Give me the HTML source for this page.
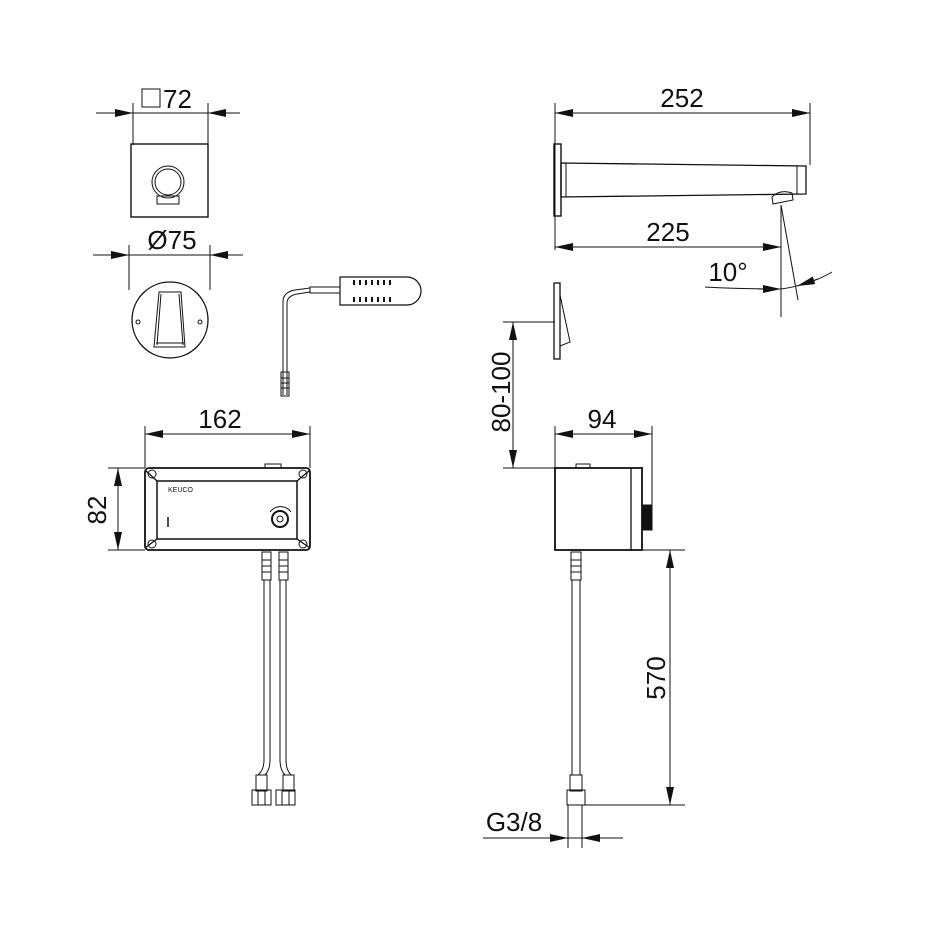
<!DOCTYPE html>
<html><head><meta charset="utf-8"><style>
html,body{margin:0;padding:0;background:#fff}
svg{display:block}
text{font-family:"Liberation Sans",sans-serif;fill:#111}
</style></head><body>
<svg width="950" height="950" viewBox="0 0 950 950" xmlns="http://www.w3.org/2000/svg">
<defs>
<marker id="a" viewBox="0 0 18 8" refX="18" refY="4" markerWidth="18" markerHeight="8" orient="auto-start-reverse" markerUnits="userSpaceOnUse"><path d="M0,0 L18,4 L0,8 z" fill="#111"/></marker>
</defs>
<g stroke="#111" stroke-width="1" fill="none">
<!-- □72 -->
<line x1="133" y1="103" x2="133" y2="145"/><line x1="208" y1="103" x2="208" y2="145"/>
<line x1="96" y1="113" x2="240" y2="113"/>
<line x1="110" y1="113" x2="133" y2="113" marker-end="url(#a)"/><line x1="230" y1="113" x2="208" y2="113" marker-end="url(#a)"/>
<rect x="142" y="89" width="18" height="18"/>
<rect x="131" y="144" width="77" height="73" stroke-width="1.4"/>
<circle cx="168" cy="182" r="16"/><circle cx="168" cy="182" r="13"/>
<rect x="157" y="196" width="22" height="8"/>
<!-- Ø75 -->
<line x1="129" y1="245" x2="129" y2="290"/><line x1="210" y1="245" x2="210" y2="290"/>
<line x1="93" y1="255" x2="243" y2="255"/>
<line x1="105" y1="255" x2="129" y2="255" marker-end="url(#a)"/><line x1="233" y1="255" x2="210" y2="255" marker-end="url(#a)"/>
<circle cx="170" cy="320" r="38" stroke-width="1.3"/>
<circle cx="138" cy="322" r="2"/><circle cx="200" cy="322" r="2"/>
<path d="M159,292 L181,292 L185,347 L154,347 Z"/><path d="M161,294 L157,345 M179,294 L183,345 M156,343 L184,343"/>
<!-- sensor -->
<path d="M283,395 L283,302 Q283,292 295,290 L310,288"/><path d="M287,395 L287,303 Q287,296 297,294 L310,292"/>
<rect x="310" y="287" width="30" height="6"/>
<path d="M340,277 L407,277 A14,14 0 0 1 407,305 L340,305 Z" stroke-width="1.2"/>
<g stroke-width="2"><path d="M354,280v5M360,280v5M366,280v5M372,280v5M378,280v5M384,280v5M390,280v5M354,297v5M360,297v5M366,297v5M372,297v5M378,297v5M384,297v5M390,297v5"/></g>
<rect x="281" y="372" width="8" height="24"/><path d="M281,378h8M281,383h8M281,388h8"/>
<!-- 162 -->
<line x1="145" y1="426" x2="145" y2="468"/><line x1="310" y1="426" x2="310" y2="468"/>
<line x1="145" y1="434" x2="310" y2="434" marker-start="url(#a)" marker-end="url(#a)"/>
<line x1="108" y1="468" x2="145" y2="468"/><line x1="108" y1="550" x2="145" y2="550"/>
<line x1="118" y1="468" x2="118" y2="550" marker-start="url(#a)" marker-end="url(#a)"/>
<rect x="145" y="468" width="165" height="82" rx="4" stroke-width="1.8"/>
<rect x="157" y="481" width="140" height="58" stroke-width="1.5"/>
<path d="M145,470 L157,481 M310,470 L297,481 M145,548 L157,539 M310,548 L297,539" stroke-width="1.3"/>
<circle cx="152" cy="474" r="4"/><circle cx="303" cy="474" r="4"/><circle cx="152" cy="544" r="4"/><circle cx="303" cy="544" r="4"/>
<rect x="265" y="464" width="16" height="4"/>
<circle cx="280" cy="519" r="8" stroke-width="2"/><circle cx="280" cy="519" r="3"/><path d="M270,512 A13,13 0 0 1 291,512"/>
<line x1="168" y1="517" x2="168" y2="527" stroke-width="1.5"/>
<!-- hoses left -->
<rect x="262" y="552" width="9" height="28"/><rect x="279" y="552" width="9" height="28"/>
<path d="M262,560h9M262,566h9M262,572h9M279,560h9M279,566h9M279,572h9"/>
<path d="M264,580 L264,760 Q264,770 258,775 M270,580 L270,760 Q270,770 265,775 M280,580 L280,760 Q280,770 285,775 M286,580 L286,760 Q286,770 291,775"/>
<rect x="256" y="775" width="11" height="16"/><rect x="283" y="775" width="11" height="16"/>
<rect x="252" y="790" width="19" height="15"/><rect x="276" y="790" width="19" height="15"/>
<path d="M258,790v15M265,790v15M282,790v15M289,790v15"/>
<!-- 252 -->
<line x1="555" y1="103" x2="555" y2="250"/><line x1="810" y1="103" x2="810" y2="165"/>
<line x1="555" y1="113" x2="810" y2="113" marker-start="url(#a)" marker-end="url(#a)"/>
<rect x="554" y="144" width="7" height="72" stroke-width="1.4"/>
<path d="M561,163 L806,166 L806,194 L561,197 Z" stroke-width="1.3"/>
<line x1="566" y1="163" x2="566" y2="197"/><rect x="797" y="166" width="9" height="28"/>
<path d="M772,197 Q780,189 792,193 L793,200 L773,204 Z"/>
<!-- 225 -->
<line x1="555" y1="247" x2="781" y2="247" marker-start="url(#a)" marker-end="url(#a)"/>
<line x1="781" y1="205" x2="781" y2="317"/><line x1="781" y1="205" x2="798" y2="300"/>
<path d="M705,287 Q740,289 781,289"/><path d="M758,289 L781,289" marker-end="url(#a)"/>
<path d="M781,289 Q810,285 832,272"/><path d="M818,279 L797,286" marker-end="url(#a)"/>
<!-- wall plate -->
<rect x="554" y="283" width="6" height="76" stroke-width="1.3"/><path d="M560,295 L570,342 L560,346"/>
<line x1="503" y1="322" x2="555" y2="322"/>
<line x1="513" y1="322" x2="513" y2="468" marker-start="url(#a)" marker-end="url(#a)"/>
<!-- 94 -->
<line x1="555" y1="426" x2="555" y2="468"/><line x1="652" y1="426" x2="652" y2="505"/>
<line x1="555" y1="434" x2="652" y2="434" marker-start="url(#a)" marker-end="url(#a)"/>
<line x1="503" y1="468" x2="555" y2="468"/>
<rect x="555" y="468" width="87" height="82" stroke-width="1.8"/><line x1="631" y1="468" x2="631" y2="550" stroke-width="1.3"/>
<rect x="642" y="505" width="10" height="25" fill="#111"/>
<rect x="576" y="464" width="14" height="4"/>
<!-- side hose -->
<rect x="571" y="552" width="10" height="28"/><path d="M571,560h10M571,566h10M571,572h10"/>
<path d="M572,580 L572,775 M580,580 L580,775"/><rect x="570" y="775" width="12" height="16"/><rect x="567" y="790" width="18" height="15"/>
<!-- 570 -->
<line x1="582" y1="550" x2="685" y2="550"/><line x1="585" y1="805" x2="685" y2="805"/>
<line x1="670" y1="550" x2="670" y2="805" marker-start="url(#a)" marker-end="url(#a)"/>
<!-- G3/8 -->
<line x1="568" y1="805" x2="568" y2="848"/><line x1="582" y1="805" x2="582" y2="848"/>
<line x1="483" y1="838" x2="623" y2="838"/>
<line x1="545" y1="838" x2="568" y2="838" marker-end="url(#a)"/><line x1="605" y1="838" x2="582" y2="838" marker-end="url(#a)"/>
</g>
<text x="163" y="108" font-size="26">72</text>
<text x="172" y="249" font-size="26" text-anchor="middle">Ø75</text>
<text x="220" y="428" font-size="26" text-anchor="middle">162</text>
<text font-size="26" text-anchor="middle" transform="translate(106,510) rotate(-90)">82</text>
<text x="682" y="107" font-size="26" text-anchor="middle">252</text>
<text x="668" y="241" font-size="26" text-anchor="middle">225</text>
<text x="728" y="281" font-size="26" text-anchor="middle">10°</text>
<text font-size="26" text-anchor="middle" transform="translate(510,392) rotate(-90)">80-100</text>
<text x="602" y="428" font-size="26" text-anchor="middle">94</text>
<text font-size="26" text-anchor="middle" transform="translate(665,678) rotate(-90)">570</text>
<text x="514" y="831" font-size="26" text-anchor="middle">G3/8</text>
<text x="168" y="492" font-size="7">KEUCO</text>
</svg>
</body></html>
